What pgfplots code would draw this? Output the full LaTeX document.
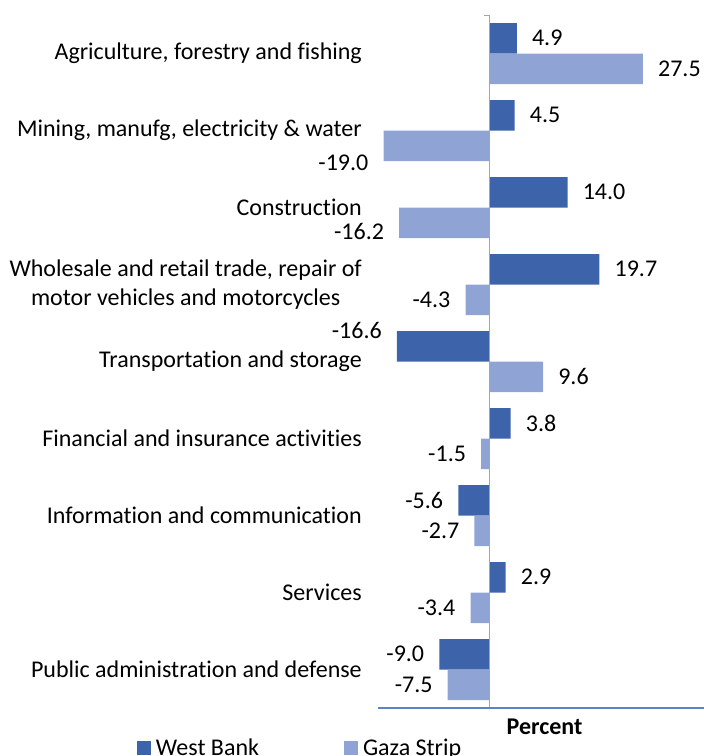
\documentclass[border=0pt]{standalone}
\usepackage{fontspec}
\setmainfont{Carlito}[Ligatures={NoCommon}]
\usepackage{pgfplots}
\pgfplotsset{compat=1.18}
\usepackage{pgfplotstable}
\definecolor{wb}{HTML}{3D64AB}
\definecolor{gz}{HTML}{8FA4D4}
\definecolor{axblue}{HTML}{5B84C8}
\definecolor{axgray}{HTML}{A6A6A6}

\pgfplotstableread{
x y dy
4.9 -0.198 0
4.5 0.802 0
14.0 1.802 0
19.7 2.802 0
-16.6 3.802 16
3.8 4.802 0
-5.6 5.802 0
2.9 6.802 0
-9.0 7.802 0
}\wbdata
\pgfplotstableread{
x y dy
27.5 0.198 0
-19.0 1.198 -17
-16.2 2.198 -9
-4.3 3.198 0
9.6 4.198 0
-1.5 5.198 0
-2.7 6.198 0
-3.4 7.198 0
-7.5 8.198 0
}\gzdata

\begin{document}
\fontsize{24}{29}\selectfont
\begin{tikzpicture}
\begin{axis}[
  scale only axis,
  width=326pt, height=693pt,
  xmin=-20, xmax=38.45,
  ymin=-0.5, ymax=8.5,
  y dir=reverse,
  axis line style={draw=none},
  xtick=\empty,
  ytick={0,...,8},
  major tick length=0pt,
  yticklabels={{Agriculture, forestry and fishing},{Mining, manufg, electricity \& water},{Construction},{Wholesale and retail trade, repair of\\motor vehicles and motorcycles},{Transportation and storage},{Financial and insurance activities},{Information and communication},{Services},{Public administration and defense}},
  yticklabel style={align=center, inner sep=0pt, xshift=-16pt},
  xlabel={\textbf{Percent}},
  xlabel style={at={(axis description cs:0.511,-0.0274)}, anchor=center},
  clip=false,
  xbar, bar width=30.5pt, bar shift=0pt,
  point meta=x,
  /pgf/number format/assume math mode=true,
  nodes near coords={\pgfmathprintnumber[fixed,zerofill,precision=1]{\pgfplotspointmeta}},
  visualization depends on={\thisrow{dy} \as \dy},
  every node near coord/.append style={inner xsep=15pt, inner ysep=0pt, yshift=\dy pt, black},
  legend columns=2,
  legend style={draw=none, fill=none, inner sep=0pt, outer sep=0pt,
    at={(axis description cs:-0.7393,-0.0585)}, anchor=west,
    nodes={inner sep=0pt, anchor=base west},
    /tikz/every odd column/.append style={column sep=5pt},
    /tikz/every even column/.append style={column sep=85pt}},
  legend image code/.code={\fill[#1] (0pt,0pt) rectangle (14pt,14pt);},
]
\addplot[fill=wb, draw=none] table[x=x,y=y] {\wbdata};
\addlegendentry{West Bank}
\addplot[fill=gz, draw=none] table[x=x,y=y] {\gzdata};
\addlegendentry{Gaza Strip}
\draw[axgray, line width=1pt] (axis cs:0,-0.5) -- (axis cs:0,8.5);
\draw[axgray, line width=1pt] (axis cs:0,-0.5) -- ([xshift=-6pt]axis cs:0,-0.5);
\draw[axblue, line width=1.3pt] (axis description cs:0,0) -- (axis description cs:1,0);
\end{axis}
\pgfresetboundingbox
\useasboundingbox (-378pt,-48pt) rectangle (326pt,708pt);
\end{tikzpicture}
\end{document}
